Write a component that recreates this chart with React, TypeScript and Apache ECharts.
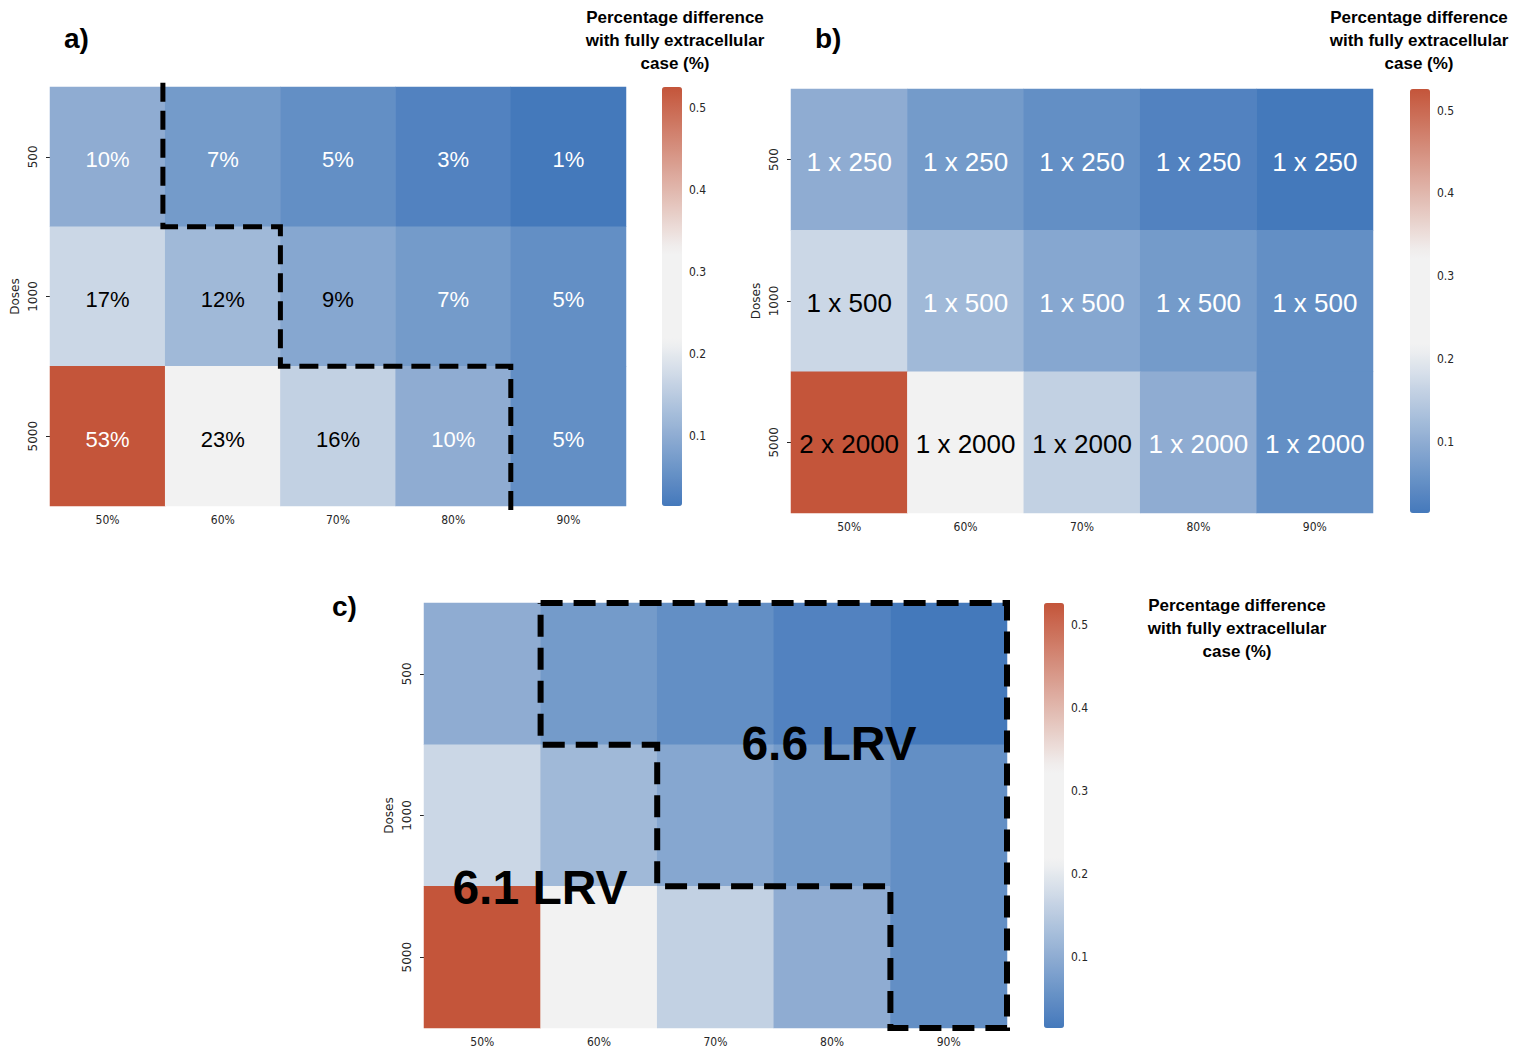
import React, { useEffect, useRef } from "react";
import * as echarts from "echarts";

// ---------- data ----------
const xCategories = ["50%", "60%", "70%", "80%", "90%"];
const yCategories = ["500", "1000", "5000"]; // top -> bottom
const colorbarTicks = [0.1, 0.2, 0.3, 0.4, 0.5];
const colorMin = 0.014;
const colorMax = 0.526;

// percentage difference with fully extracellular case (fraction), rows top->bottom
const row500 = [0.10, 0.07, 0.05, 0.03, 0.01];
const row1000 = [0.17, 0.12, 0.09, 0.07, 0.05];
const row5000 = [0.53, 0.23, 0.16, 0.10, 0.05];
const heatValues = [row500, row1000, row5000];

// panel b annotations
const doseLabels500 = ["1 x 250", "1 x 250", "1 x 250", "1 x 250", "1 x 250"];
const doseLabels1000 = ["1 x 500", "1 x 500", "1 x 500", "1 x 500", "1 x 500"];
const doseLabels5000 = ["2 x 2000", "1 x 2000", "1 x 2000", "1 x 2000", "1 x 2000"];
const doseLabels = [doseLabels500, doseLabels1000, doseLabels5000];

// which annotations are drawn in dark text
const darkTextA = [
  [false, false, false, false, false],
  [true, true, true, false, false],
  [false, true, true, false, false],
];
const darkTextB = [
  [false, false, false, false, false],
  [true, false, false, false, false],
  [true, true, true, false, false],
];

// dashed boundaries, in cell units (x: column edge, y: row edge from top)
const boundaryA = [[0.98, -0.03], [0.98, 1], [2, 1], [2, 2], [4, 2], [4, 3.03]];
const boundaryC = [[1, 0], [5, 0], [5, 3], [4, 3], [4, 2], [2, 2], [2, 1], [1, 1], [1, 0]];

const lrvLabels = ["6.6 LRV", "6.1 LRV"];
const colorbarTitle = "Percentage difference\nwith fully extracellular\ncase (%)";
const panelLetters = ["a)", "b)", "c)"];

// ---------- styles ----------
const FONT_CELL = "'Liberation Sans', Arial, sans-serif";
const FONT_AXIS = "'DejaVu Sans', sans-serif";
const FONT_AXIS_NARROW = "'DejaVu Sans Condensed', 'DejaVu Sans', sans-serif";
const AXIS_COLOR = "#262626";

const anchors: [number, number[]][] = [
  [0, [0x44, 0x79, 0xbb]],
  [0.393, [0xf2, 0xf2, 0xf2]],
  [0.607, [0xf2, 0xf2, 0xf2]],
  [1, [0xc4, 0x55, 0x3a]],
];
function cmapColor(t: number): string {
  for (let i = 0; i < anchors.length - 1; i++) {
    const [t0, c0] = anchors[i];
    const [t1, c1] = anchors[i + 1];
    if (t >= t0 && t <= t1) {
      const f = t1 === t0 ? 0 : (t - t0) / (t1 - t0);
      const c = c0.map((v, k) => Math.round(v + (c1[k] - v) * f));
      return "rgb(" + c.join(",") + ")";
    }
  }
  return "rgb(196,85,58)";
}
const colorStops: string[] = [];
for (let i = 0; i <= 50; i++) colorStops.push(cmapColor(i / 50));

type Panel = {
  grid: { left: number; top: number; width: number; height: number };
  cbarLeft: number;
  labels: string[][] | null;
  dark: boolean[][] | null;
  cellFont: number;
  labelOffset: number;
  boundary: number[][] | null;
  boundaryWidth: number;
  dash: number[];
};

const panels: Panel[] = [
  {
    grid: { left: 50, top: 87, width: 576, height: 419 },
    cbarLeft: 662,
    labels: null,
    dark: darkTextA,
    cellFont: 22,
    labelOffset: 3,
    boundary: boundaryA,
    boundaryWidth: 5,
    dash: [19, 9],
  },
  {
    grid: { left: 791, top: 89, width: 582, height: 424 },
    cbarLeft: 1410,
    labels: doseLabels,
    dark: darkTextB,
    cellFont: 26,
    labelOffset: 2,
    boundary: null,
    boundaryWidth: 0,
    dash: [],
  },
  {
    grid: { left: 424, top: 603, width: 583, height: 425 },
    cbarLeft: 1044,
    labels: null,
    dark: null,
    cellFont: 22,
    labelOffset: 0,
    boundary: boundaryC,
    boundaryWidth: 6,
    dash: [22, 11],
  },
];

function buildOption() {
  const grid: any[] = [];
  const xAxis: any[] = [];
  const yAxis: any[] = [];
  const series: any[] = [];
  const visualMap: any[] = [];

  panels.forEach((p) => {
    const gHeat = grid.length;
    grid.push({ ...p.grid });
    const gBar = grid.length;
    grid.push({ left: p.cbarLeft, top: p.grid.top, width: 20, height: p.grid.height });

    const xCat = xAxis.length;
    xAxis.push({
      type: "category",
      gridIndex: gHeat,
      data: xCategories,
      axisLine: { show: false },
      axisTick: { show: true, alignWithLabel: true, length: 4, lineStyle: { color: AXIS_COLOR } },
      axisLabel: { fontSize: 12, color: AXIS_COLOR, fontFamily: FONT_AXIS_NARROW, margin: 8 },
      splitLine: { show: false },
    });
    const xVal = xAxis.length;
    xAxis.push({ type: "value", gridIndex: gHeat, min: 0, max: 5, show: false });
    xAxis.push({ type: "value", gridIndex: gBar, min: 0, max: 1, show: false });

    const yCat = yAxis.length;
    yAxis.push({
      type: "category",
      gridIndex: gHeat,
      data: yCategories,
      inverse: true,
      name: "Doses",
      nameLocation: "middle",
      nameRotate: 90,
      nameGap: 29,
      nameTextStyle: { fontSize: 12, color: AXIS_COLOR, fontFamily: FONT_AXIS },
      axisLine: { show: false },
      axisTick: { show: true, alignWithLabel: true, length: 4, lineStyle: { color: AXIS_COLOR } },
      axisLabel: { fontSize: 12, color: AXIS_COLOR, fontFamily: FONT_AXIS, rotate: 90, margin: 11 },
      splitLine: { show: false },
    });
    const yVal = yAxis.length;
    yAxis.push({ type: "value", gridIndex: gHeat, min: 0, max: 3, inverse: true, show: false });
    yAxis.push({
      type: "value",
      gridIndex: gBar,
      min: colorMin,
      max: colorMax,
      position: "right",
      axisLine: { show: false },
      splitLine: { show: false },
      axisTick: { show: true, length: 4, customValues: colorbarTicks, lineStyle: { color: AXIS_COLOR, width: 1 } },
      axisLabel: {
        show: true,
        customValues: colorbarTicks,
        fontSize: 12,
        color: AXIS_COLOR,
        fontFamily: FONT_AXIS_NARROW,
        margin: 7,
        formatter: (v: number) => v.toFixed(1),
      },
    });

    const data: any[] = [];
    heatValues.forEach((row, r) =>
      row.forEach((v, c) => {
        const text = p.labels ? p.labels[r][c] : Math.round(v * 100) + "%";
        data.push({
          value: [c, r, v],
          text: p.dark ? text : "",
          label: { color: p.dark && p.dark[r][c] ? "#000000" : "#ffffff" },
        });
      })
    );
    const sHeat = series.length;
    series.push({
      type: "heatmap",
      xAxisIndex: xCat,
      yAxisIndex: yCat,
      data,
      itemStyle: { borderWidth: 0 },
      label: {
        show: !!p.dark,
        fontSize: p.cellFont,
        fontFamily: FONT_CELL,
        offset: [0, p.labelOffset],
        formatter: (prm: any) => prm.data.text,
      },
      emphasis: { disabled: true },
      silent: true,
    });
    visualMap.push({
      type: "continuous",
      seriesIndex: sHeat,
      min: colorMin,
      max: colorMax,
      calculable: false,
      hoverLink: false,
      orient: "vertical",
      left: p.cbarLeft,
      top: p.grid.top,
      itemWidth: 20,
      itemHeight: p.grid.height,
      padding: 0,
      inRange: { color: colorStops },
    });
    if (p.boundary) {
      series.push({
        type: "line",
        xAxisIndex: xVal,
        yAxisIndex: yVal,
        data: p.boundary,
        symbol: "none",
        clip: false,
        silent: true,
        z: 10,
        lineStyle: { color: "#000000", width: p.boundaryWidth, type: p.dash, cap: "butt", join: "miter" },
      });
    }
  });

  const titleStyle = {
    fontSize: 17,
    fontWeight: "bold",
    fontFamily: FONT_CELL,
    fill: "#000",
    align: "center",
    verticalAlign: "top",
    lineHeight: 23,
  };
  const letterStyle = { fontSize: 28, fontWeight: "bold", fontFamily: FONT_CELL, fill: "#000" };
  const lrvStyle = { fontSize: 48, fontWeight: "bold", fontFamily: FONT_CELL, fill: "#000", align: "center", verticalAlign: "middle" };
  const graphic: any[] = [
    { type: "text", left: 64, top: 24, style: { ...letterStyle, text: panelLetters[0] } },
    { type: "text", left: 815, top: 24, style: { ...letterStyle, text: panelLetters[1] } },
    { type: "text", left: 332, top: 592, style: { ...letterStyle, text: panelLetters[2] } },
    { type: "text", x: 675, y: 6, style: { ...titleStyle, text: colorbarTitle } },
    { type: "text", x: 1419, y: 6, style: { ...titleStyle, text: colorbarTitle } },
    { type: "text", x: 1237, y: 594, style: { ...titleStyle, text: colorbarTitle } },
    { type: "text", x: 829, y: 743, z: 20, style: { ...lrvStyle, text: lrvLabels[0] } },
    { type: "text", x: 540, y: 887, z: 20, style: { ...lrvStyle, text: lrvLabels[1] } },
  ];

  return {
    animation: false,
    backgroundColor: "#ffffff",
    grid,
    xAxis,
    yAxis,
    visualMap,
    series,
    graphic,
  };
}

export default function App() {
  const ref = useRef<HTMLDivElement>(null);
  useEffect(() => {
    if (!ref.current) return;
    const chart = echarts.init(ref.current, undefined, { renderer: "svg" });
    chart.setOption(buildOption() as any);
    return () => chart.dispose();
  }, []);
  return (
    <div
      ref={ref}
      style={{ position: "fixed", left: 0, top: 0, width: 1521, height: 1055, background: "#fff" }}
    />
  );
}
